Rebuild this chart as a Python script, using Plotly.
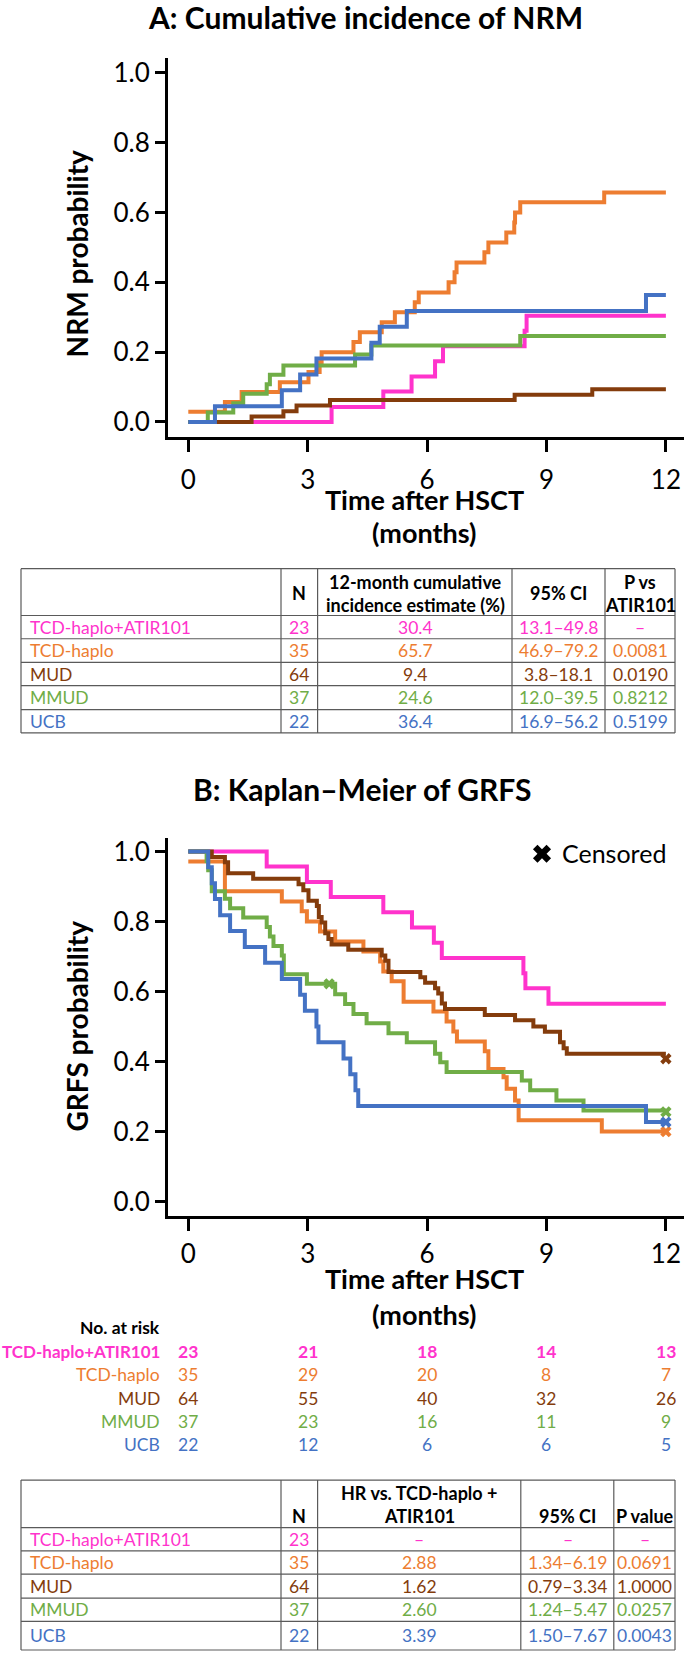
import plotly.graph_objects as go

W, H = 685, 1653
FONT = "Lato"

# ---------------- data ----------------
groups = ["TCD-haplo+ATIR101", "TCD-haplo", "MUD", "MMUD", "UCB"]
colors = ["#FF33CC", "#ED7D31", "#843C0C", "#70AD47", "#4472C4"]
n_pat = [23, 35, 64, 37, 22]

# Panel A: cumulative incidence of NRM (months, probability)
pink_a_t = [0, 3.6, 4.9, 5.61, 6.2, 6.4, 8.45, 8.5, 12]
pink_a_p = [0, 0.043, 0.087, 0.13, 0.174, 0.217, 0.261, 0.304, 0.304]
orange_a_t = [0, 0.92, 1.34, 2.3, 3.02, 3.3, 3.35, 4.15, 4.31, 4.86, 5.19, 5.69, 5.79,
              6.54, 6.69, 6.74, 7.44, 7.54, 7.99, 8.19, 8.21, 8.34, 10.45, 12]
orange_a_p = [0.029, 0.057, 0.086, 0.114, 0.143, 0.171, 0.2, 0.229, 0.257, 0.286, 0.314,
              0.343, 0.371, 0.4, 0.429, 0.457, 0.486, 0.514, 0.543, 0.571, 0.6, 0.629,
              0.657, 0.657]
brown_a_t = [0, 1.59, 2.39, 2.72, 3.56, 8.2, 10.15, 12]
brown_a_p = [0, 0.016, 0.031, 0.047, 0.063, 0.078, 0.094, 0.094]
green_a_t = [0, 0.49, 1.13, 1.38, 1.97, 2.05, 2.39, 4.19, 4.6, 8.34, 12]
green_a_p = [0, 0.027, 0.054, 0.081, 0.108, 0.135, 0.162, 0.193, 0.219, 0.246, 0.246]
blue_a_t = [0, 0.67, 2.35, 2.81, 3.22, 4.6, 4.81, 5.49, 11.5, 12]
blue_a_p = [0, 0.045, 0.091, 0.136, 0.182, 0.227, 0.273, 0.318, 0.364, 0.364]

# Panel B: Kaplan-Meier of GRFS
pink_b_t = [0, 1.97, 2.98, 3.58, 4.9, 5.62, 6.17, 6.37, 8.42, 8.47, 9.05, 12]
pink_b_p = [1, 0.957, 0.913, 0.870, 0.826, 0.783, 0.739, 0.696, 0.652, 0.609, 0.565, 0.565]
orange_b_t = [0, 0.92, 2.35, 2.85, 2.98, 3.31, 3.69, 4.4, 4.82, 4.9, 5.11, 5.41, 6.16,
              6.49, 6.66, 6.75, 7.45, 7.54, 7.92, 8.0, 8.21, 8.3, 10.39, 12]
orange_b_p = [0.971, 0.886, 0.857, 0.829, 0.8, 0.771, 0.743, 0.714, 0.686, 0.657, 0.629,
              0.571, 0.543, 0.514, 0.486, 0.457, 0.429, 0.379, 0.355, 0.322, 0.289, 0.232,
              0.2, 0.2]
brown_b_t = [0, 0.59, 0.92, 1.0, 1.63, 2.77, 2.89, 3.02, 3.23, 3.28, 3.35, 3.44, 3.52, 3.6,
             4.02, 4.86, 4.95, 5.03, 5.83, 5.95, 6.2, 6.28, 6.37, 6.45, 7.45, 8.21, 8.67,
             8.96, 9.34, 9.43, 9.51, 12]
brown_b_p = [1, 0.984, 0.969, 0.938, 0.922, 0.906, 0.889, 0.859, 0.844, 0.813, 0.797,
             0.766, 0.75, 0.734, 0.719, 0.703, 0.688, 0.656, 0.641, 0.625, 0.609, 0.594,
             0.566, 0.55, 0.533, 0.518, 0.5, 0.485, 0.455, 0.438, 0.422, 0.422]
green_b_t = [0, 0.46, 0.5, 0.59, 0.92, 1.05, 1.38, 1.97, 2.05, 2.14, 2.35, 2.4, 2.98, 3.69,
             3.94, 4.15, 4.48, 5.03, 5.49, 6.2, 6.33, 6.49, 8.38, 8.59, 9.25, 9.93, 12]
green_b_p = [1, 0.973, 0.946, 0.886, 0.865, 0.838, 0.811, 0.784, 0.757, 0.73, 0.703, 0.649,
             0.622, 0.592, 0.564, 0.536, 0.509, 0.481, 0.455, 0.422, 0.398, 0.37, 0.346,
             0.318, 0.289, 0.26, 0.26]
blue_b_t = [0, 0.5, 0.59, 0.67, 0.8, 1.05, 1.42, 1.93, 2.35, 2.81, 2.93, 3.22, 3.27, 3.9,
            4.07, 4.2, 4.27, 11.5, 12]
blue_b_p = [1, 0.955, 0.909, 0.864, 0.818, 0.773, 0.727, 0.682, 0.636, 0.591, 0.545, 0.5,
            0.455, 0.409, 0.364, 0.318, 0.273, 0.227, 0.227]

# censored observations (panel B)
cens_t = [3.54, 12, 12, 12, 12]
cens_p = [0.622, 0.408, 0.2, 0.256, 0.227]
cens_group = [3, 2, 1, 3, 4]

# Tables
nrm_est = ["30.4", "65.7", "9.4", "24.6", "36.4"]
nrm_ci = ["13.1–49.8", "46.9–79.2", "3.8–18.1", "12.0–39.5", "16.9–56.2"]
nrm_pval = ["–", "0.0081", "0.0190", "0.8212", "0.5199"]
hr_est = ["–", "2.88", "1.62", "2.60", "3.39"]
hr_ci = ["–", "1.34–6.19", "0.79–3.34", "1.24–5.47", "1.50–7.67"]
hr_pval = ["–", "0.0691", "1.0000", "0.0257", "0.0043"]

risk_times = [0, 3, 6, 9, 12]
at_risk = [[23, 21, 18, 14, 13],
           [35, 29, 20, 8, 7],
           [64, 55, 40, 32, 26],
           [37, 23, 16, 11, 9],
           [22, 12, 6, 6, 5]]

x_ticks = [0, 3, 6, 9, 12]
y_ticks = [0, 0.2, 0.4, 0.6, 0.8, 1.0]


# ---------------- helpers ----------------
def px(x):
    return x / W


def py(y):
    return 1 - y / H


fig = go.Figure()

curves_a = [(pink_a_t, pink_a_p), (orange_a_t, orange_a_p), (brown_a_t, brown_a_p),
            (green_a_t, green_a_p), (blue_a_t, blue_a_p)]
curves_b = [(pink_b_t, pink_b_p), (orange_b_t, orange_b_p), (brown_b_t, brown_b_p),
            (green_b_t, green_b_p), (blue_b_t, blue_b_p)]

for i, (t, p) in enumerate(curves_a):
    fig.add_trace(go.Scatter(x=t, y=p, mode="lines", xaxis="x", yaxis="y",
                             line=dict(shape="hv", width=4, color=colors[i]),
                             showlegend=False, hoverinfo="skip"))
for i, (t, p) in enumerate(curves_b):
    fig.add_trace(go.Scatter(x=t, y=p, mode="lines", xaxis="x2", yaxis="y2",
                             line=dict(shape="hv", width=4, color=colors[i]),
                             showlegend=False, hoverinfo="skip"))

fig.add_trace(go.Scatter(x=cens_t, y=cens_p, mode="markers", xaxis="x2", yaxis="y2",
                         marker=dict(symbol="x", size=10,
                                     color=[colors[g] for g in cens_group]),
                         showlegend=False, hoverinfo="skip"))
# legend entry for censor mark
fig.add_trace(go.Scatter(x=[None], y=[None], mode="markers", xaxis="x2", yaxis="y2",
                         name="Censored",
                         marker=dict(symbol="x", size=16, color="black"),
                         showlegend=True))

axis_common = dict(showline=True, linewidth=3, linecolor="black", ticks="outside",
                   tickwidth=3, tickcolor="black", showgrid=False, zeroline=False,
                   tickfont=dict(family=FONT, size=26, color="black"))

xdom = [px(168), px(684)]
xrng = [-0.51, 12.455]

fig.update_layout(
    width=W, height=H, margin=dict(l=0, r=0, t=0, b=0),
    paper_bgcolor="white", plot_bgcolor="white",
    font=dict(family=FONT, color="black"),
    xaxis=dict(domain=xdom, range=xrng, anchor="y", tickvals=x_ticks, ticklen=12,
               ticklabelstandoff=6, **axis_common),
    yaxis=dict(domain=[py(435), py(55)], range=[-15 / 350, 365 / 350], anchor="x",
               tickvals=y_ticks, tickformat=".1f", ticklen=10, **axis_common),
    xaxis2=dict(domain=xdom, range=xrng, anchor="y2", tickvals=x_ticks, ticklen=12,
                ticklabelstandoff=1, **axis_common),
    yaxis2=dict(domain=[py(1216), py(837)], range=[-14.5 / 351, 364.5 / 351],
                anchor="x2", tickvals=y_ticks, tickformat=".1f", ticklen=10,
                **axis_common),
    legend=dict(x=px(522), y=py(853), xanchor="left", yanchor="middle",
                bgcolor="rgba(0,0,0,0)", font=dict(family=FONT, size=25, color="black")),
)

ann = []
shapes = []


def text(x, y, s, size=18, color="black", bold=False, xanchor="center", angle=0,
         xref="paper"):
    ann.append(dict(x=x, y=py(y), xref=xref, yref="paper",
                    text=("<b>%s</b>" % s) if bold else s, showarrow=False,
                    xanchor=xanchor, yanchor="middle", textangle=angle,
                    font=dict(family=FONT, size=size, color=color)))


# titles
text(px(366), 14, "A: Cumulative incidence of NRM", size=30, bold=True)
text(px(362), 788, "B: Kaplan–Meier of GRFS", size=30, bold=True)
# axis titles
text(px(77), 252, "NRM probability", size=28, bold=True, angle=-90)
text(px(77), 1026, "GRFS probability", size=28, bold=True, angle=-90)
text(px(424), 498, "Time after HSCT", size=27, bold=True)
text(px(424), 531, "(months)", size=27, bold=True)
text(px(424), 1279, "Time after HSCT", size=27, bold=True)
text(px(424), 1315, "(months)", size=27, bold=True)

# risk table
text(px(162), 1328, "No. at risk", size=17.5, bold=True, xanchor="right")
risk_rows = [1352, 1375, 1398.5, 1422, 1445]
for i, g in enumerate(groups):
    b = (i == 0)
    text(px(162), risk_rows[i], g, size=17 if b else 17.5, color=colors[i], bold=b,
         xanchor="right")
    for j, tt in enumerate(risk_times):
        text(tt, risk_rows[i], str(at_risk[i][j]), size=17.5, color=colors[i], bold=b,
             xref="x2")


def hline(x0, x1, y):
    shapes.append(dict(type="line", xref="paper", yref="paper", x0=px(x0), x1=px(x1),
                       y0=py(y), y1=py(y), line=dict(color="#5a5a5a", width=1.2)))


def vline(x, y0, y1):
    shapes.append(dict(type="line", xref="paper", yref="paper", x0=px(x), x1=px(x),
                       y0=py(y0), y1=py(y1), line=dict(color="#5a5a5a", width=1.2)))


# table A
ta_h = [567, 614, 637.3, 661, 684.3, 708.3, 731.7]
ta_v = [21, 281, 317.6, 512, 605, 675]
for y in ta_h:
    hline(21, 675, y)
for x in ta_v:
    vline(x, ta_h[0], ta_h[-1])
text(px(299), 591.5, "N", bold=True)
text(px(415), 580, "12-month cumulative", bold=True)
text(px(415), 603.5, "incidence estimate (%)", bold=True)
text(px(558.5), 591.5, "95% CI", bold=True)
text(px(640), 580, "P vs", bold=True)
text(px(640), 603.5, "ATIR101", bold=True)
for i, g in enumerate(groups):
    yc = (ta_h[i + 1] + ta_h[i + 2]) / 2
    c = colors[i]
    text(px(28), yc, g, size=17.5, color=c, xanchor="left")
    text(px(299), yc, str(n_pat[i]), size=17.5, color=c)
    text(px(415), yc, nrm_est[i], size=17.5, color=c)
    text(px(558.5), yc, nrm_ci[i], size=17.5, color=c)
    text(px(640), yc, nrm_pval[i], size=17.5, color=c)

# table B
tb_h = [1480.7, 1528.3, 1551.7, 1575, 1599, 1622.3, 1651]
tb_v = [21, 281, 317.6, 520.8, 613.8, 675]
for y in tb_h:
    hline(21, 675, y)
for x in tb_v:
    vline(x, tb_h[0], tb_h[-1])
text(px(299), 1516.5, "N", bold=True)
text(px(419), 1493.5, "HR vs. TCD-haplo +", bold=True)
text(px(419), 1516.5, "ATIR101", bold=True)
text(px(567.5), 1516.5, "95% CI", bold=True)
text(px(644.5), 1516.5, "P value", bold=True)
for i, g in enumerate(groups):
    yc = (tb_h[i + 1] + tb_h[i + 2]) / 2
    c = colors[i]
    text(px(28), yc, g, size=17.5, color=c, xanchor="left")
    text(px(299), yc, str(n_pat[i]), size=17.5, color=c)
    text(px(419), yc, hr_est[i], size=17.5, color=c)
    text(px(567.5), yc, hr_ci[i], size=17.5, color=c)
    text(px(644.5), yc, hr_pval[i], size=17.5, color=c)

fig.update_layout(annotations=ann, shapes=shapes)
fig.write_html(
    "out.html",
    config={"displayModeBar": False},
    post_script="document.body.style.margin='0px';document.body.style.padding='0px';"
                "document.documentElement.style.overflow='hidden';",
)
